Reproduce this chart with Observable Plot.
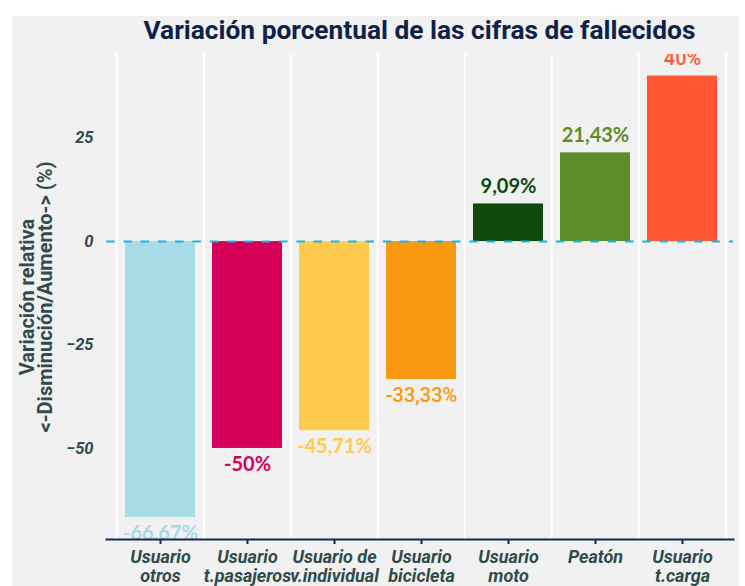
<!DOCTYPE html>
<html>
<head>
<meta charset="utf-8">
<script src="https://cdn.jsdelivr.net/npm/d3@7"></script>
<script src="https://cdn.jsdelivr.net/npm/@observablehq/plot@0.6"></script>
<style>
  body { margin: 0; background: #ffffff; }
  #wrap { position: relative; width: 745px; height: 586px; overflow: hidden; }
  #bg { position: absolute; left: 12px; top: 16px; width: 727px; height: 590px; background: #f1f1f1; }
  #title { position: absolute; left: 106px; width: 627px; top: 15px; text-align: center;
           font-family: Roboto, sans-serif; font-weight: 700; font-size: 26.3px; color: #0d2149; line-height: 30px; white-space: nowrap; }
  #chart { position: absolute; left: 0; top: 0; }
</style>
</head>
<body>
<div id="wrap">
  <div id="bg"></div>
  <div id="title"></div>
  <div id="chart"></div>
</div>
<script>
// ---- data ----
const categories = ["Usuario otros", "Usuario t.pasajeros", "Usuario de v.individual", "Usuario bicicleta", "Usuario moto", "Peatón", "Usuario t.carga"];
const values = [-66.67, -50, -45.71, -33.33, 9.09, 21.43, 40];
const valueLabels = ["-66,67%", "-50%", "-45,71%", "-33,33%", "9,09%", "21,43%", "40%"];
const tickLabels = ["Usuario\notros", "Usuario\nt.pasajeros", "Usuario de\nv.individual", "Usuario\nbicicleta", "Usuario\nmoto", "Peatón", "Usuario\nt.carga"];
const yTicks = [-50, -25, 0, 25];
const colors = ["#a7dbe5", "#d6005b", "#ffcb4c", "#f9990f", "#0f4a0b", "#5c8d28", "#ff5834"];
const titleText = "Variación porcentual de las cifras de fallecidos";
const yLabel = "Variación relativa\n<-Disminución/Aumento-> (%)";
const robotoLabels = new Set(["-33,33%", "40%"]);

// ---- layout ----
const W = 745, H = 586, mL = 106, mR = 12, mT = 54, mB = 47, insetL = 9, insetR = 5.5;
const step = (W - mL - mR - insetL - insetR) / categories.length;
const navy = "#14275a";
const axisText = "#2f4b4b";

const rows = categories.map((c, i) => ({cat: c, val: values[i], lab: valueLabels[i], tick: tickLabels[i]}));
const tickMap = new Map(rows.map(d => [d.cat, d.tick]));
const lastCat = categories[categories.length - 1];

document.getElementById("title").textContent = titleText;

function labelMark(data, dy, family, weight) {
  return Plot.text(data, {
    x: "cat", y: "val", text: "lab", fill: "cat", dy,
    fontFamily: family, fontWeight: weight, fontSize: 20, clip: true
  });
}

const chart = Plot.plot({
  width: W, height: H,
  marginLeft: mL, marginRight: mR, marginTop: mT, marginBottom: mB,
  style: {background: "transparent", fontFamily: "Roboto, sans-serif", overflow: "visible"},
  x: {type: "band", domain: categories, paddingInner: 0.2, paddingOuter: 0.1, insetLeft: insetL, insetRight: insetR},
  y: {domain: [-72, 45.2]},
  color: {type: "ordinal", domain: categories, range: colors},
  marks: [
    Plot.ruleX(categories, {x: d => d, dx: -step / 2, stroke: "#ffffff", strokeWidth: 2}),
    Plot.ruleX([lastCat], {x: d => d, dx: step / 2, stroke: "#ffffff", strokeWidth: 2}),
    Plot.barY(rows, {x: "cat", y: "val", fill: "cat"}),
    Plot.ruleY([0], {stroke: "#1ab5e0", strokeWidth: 2, strokeDasharray: "8.5,8.8"}),
    labelMark(rows.filter(d => d.val >= 0 && !robotoLabels.has(d.lab)), -17, "Lato", "bold"),
    labelMark(rows.filter(d => d.val < 0 && !robotoLabels.has(d.lab)), 16, "Lato", "bold"),
    labelMark(rows.filter(d => d.val >= 0 && robotoLabels.has(d.lab)), -17, "Roboto", "500"),
    labelMark(rows.filter(d => d.val < 0 && robotoLabels.has(d.lab)), 16, "Roboto", "500"),
    Plot.frame({anchor: "bottom", stroke: navy, strokeWidth: 2}),
    Plot.axisX({
      tickSize: 5, tickPadding: 5, stroke: navy, strokeWidth: 2, fill: axisText,
      fontSize: 18, fontWeight: "bold", fontStyle: "italic", lineHeight: 1.07,
      tickFormat: d => tickMap.get(d), label: null
    }),
    Plot.axisY({
      ticks: yTicks, tickSize: 0, tickPadding: 13, fill: axisText,
      fontSize: 16.5, fontWeight: "bold", fontStyle: "italic", label: null
    }),
    Plot.text([yLabel], {
      frameAnchor: "left", rotate: -90, dx: -69, fill: axisText,
      textAnchor: "middle", lineAnchor: "middle",
      fontSize: 20, fontWeight: "bold", lineHeight: 0.9
    })
  ]
});
document.getElementById("chart").appendChild(chart);
</script>
</body>
</html>
